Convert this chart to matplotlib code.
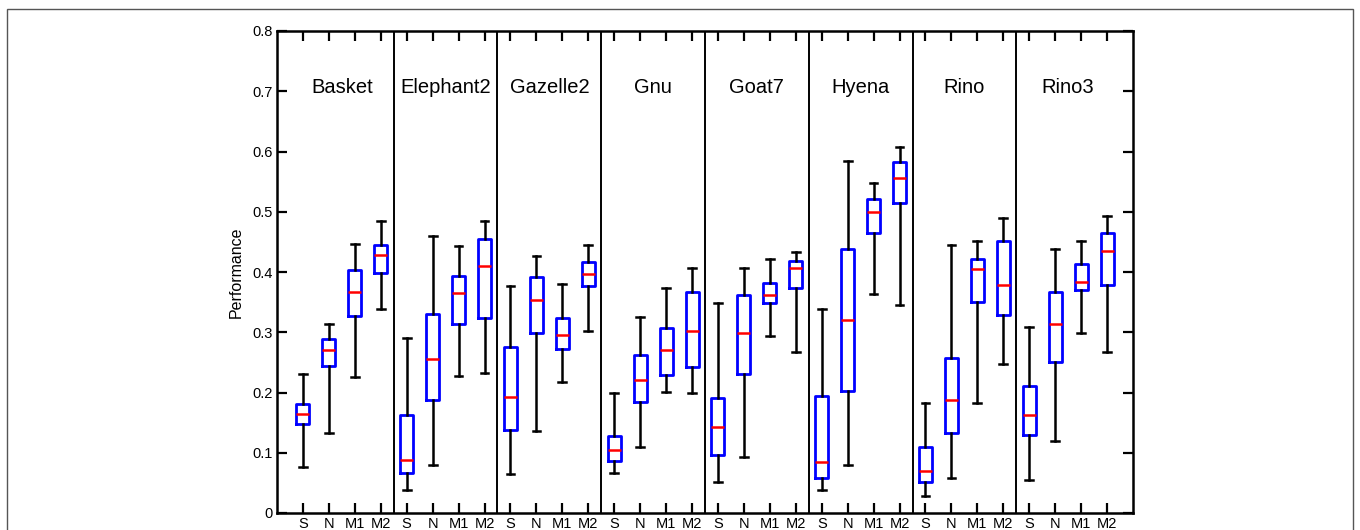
import matplotlib
matplotlib.use("Agg")
import matplotlib.pyplot as plt
from matplotlib.patches import Rectangle

plt.rcParams["font.family"] = ["Liberation Sans", "DejaVu Sans"]

groups = ["Basket", "Elephant2", "Gazelle2", "Gnu", "Goat7", "Hyena", "Rino", "Rino3"]
methods = ["S", "N", "M1", "M2"]

# per group: S, N, M1, M2
whislo = [
    [0.077, 0.133, 0.226, 0.338],
    [0.039, 0.080, 0.227, 0.233],
    [0.064, 0.136, 0.218, 0.302],
    [0.066, 0.110, 0.201, 0.199],
    [0.052, 0.093, 0.294, 0.268],
    [0.038, 0.080, 0.363, 0.346],
    [0.029, 0.058, 0.183, 0.248],
    [0.054, 0.120, 0.299, 0.267],
]
q1 = [
    [0.148, 0.244, 0.327, 0.399],
    [0.066, 0.188, 0.313, 0.323],
    [0.137, 0.299, 0.272, 0.377],
    [0.087, 0.185, 0.229, 0.243],
    [0.097, 0.231, 0.348, 0.374],
    [0.058, 0.203, 0.465, 0.515],
    [0.052, 0.133, 0.351, 0.328],
    [0.130, 0.250, 0.370, 0.379],
]
med = [
    [0.164, 0.271, 0.367, 0.429],
    [0.088, 0.255, 0.365, 0.410],
    [0.193, 0.354, 0.295, 0.397],
    [0.105, 0.220, 0.271, 0.302],
    [0.142, 0.298, 0.362, 0.407],
    [0.084, 0.320, 0.499, 0.556],
    [0.070, 0.188, 0.405, 0.379],
    [0.162, 0.314, 0.383, 0.435],
]
q3 = [
    [0.181, 0.289, 0.403, 0.445],
    [0.162, 0.331, 0.393, 0.454],
    [0.276, 0.392, 0.324, 0.416],
    [0.128, 0.262, 0.307, 0.366],
    [0.191, 0.362, 0.381, 0.419],
    [0.195, 0.439, 0.521, 0.583],
    [0.110, 0.257, 0.422, 0.452],
    [0.210, 0.366, 0.414, 0.465],
]
whishi = [
    [0.230, 0.314, 0.447, 0.484],
    [0.291, 0.460, 0.443, 0.485],
    [0.377, 0.427, 0.380, 0.445],
    [0.200, 0.325, 0.373, 0.406],
    [0.348, 0.407, 0.422, 0.434],
    [0.338, 0.584, 0.548, 0.608],
    [0.182, 0.444, 0.451, 0.489],
    [0.309, 0.439, 0.452, 0.493],
]

stats = []
for g in range(len(groups)):
    for m in range(len(methods)):
        stats.append({
            "whislo": whislo[g][m], "q1": q1[g][m], "med": med[g][m],
            "q3": q3[g][m], "whishi": whishi[g][m], "fliers": [],
        })
positions = list(range(1, len(stats) + 1))

fig = plt.figure(figsize=(13.6, 5.3), dpi=100)
ax = fig.add_axes([277 / 1360, 1 - 513 / 530, (1133 - 277) / 1360, (513 - 31) / 530])

ax.bxp(stats, positions=positions, widths=0.5, capwidths=0.3, showfliers=False,
       boxprops=dict(color="#0000ff", linewidth=2.0),
       medianprops=dict(color="#ff0000", linewidth=1.8),
       whiskerprops=dict(color="black", linewidth=1.8),
       capprops=dict(color="black", linewidth=1.8))

for k in range(1, len(groups)):
    ax.axvline(4 * k + 0.5, color="black", linewidth=1.4)

for k, name in enumerate(groups):
    ax.text(4 * k + 2.5, 0.706, name, ha="center", va="center", fontsize=14.5)

ax.set_xlim(0, 33)
ax.set_ylim(0, 0.8)
ax.set_xticks(positions)
ax.set_xticklabels(methods * len(groups), fontsize=10.5)
yt = [0, 0.1, 0.2, 0.3, 0.4, 0.5, 0.6, 0.7, 0.8]
ax.set_yticks(yt)
ax.set_yticklabels(["0"] + ["%.1f" % v for v in yt[1:]], fontsize=10.5)
ax.tick_params(direction="in", length=7, width=1.6, top=True, right=True, pad=3)
ax.set_ylabel("Performance", fontsize=11.5, labelpad=6)
for s in ax.spines.values():
    s.set_linewidth(1.8)

fig.patches.append(Rectangle((7 / 1360, -0.05), (1353 - 7) / 1360, 1.05 - 9 / 530,
                             transform=fig.transFigure, fill=False,
                             edgecolor="#555555", linewidth=1.0))

fig.savefig("out.png", dpi=100)
